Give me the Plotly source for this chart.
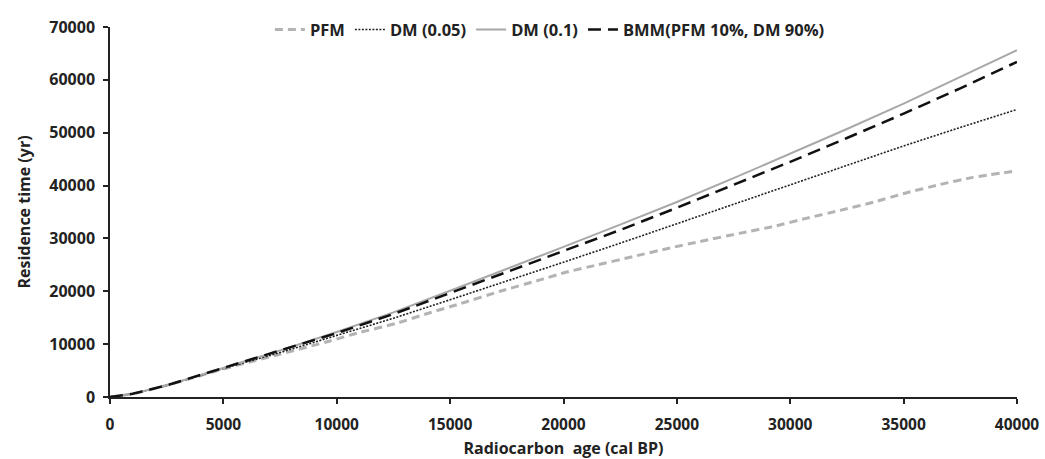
import plotly.graph_objects as go

x_dm = [0, 1000, 2500, 5000, 7500, 10000, 12500, 15000, 17500, 20000, 22500, 25000,
        27500, 30000, 32500, 35000, 37500, 40000]
dm01 = [0, 600, 2200, 5500, 8800, 12300, 16000, 20100, 24200, 28400, 32600, 36900,
        41400, 46000, 50700, 55500, 60500, 65600]
bmm = [0, 600, 2200, 5500, 8700, 12100, 15700, 19700, 23600, 27600, 31600, 35800,
       40100, 44500, 49000, 53600, 58400, 63400]
dm005 = [0, 600, 2200, 5400, 8400, 11600, 14900, 18400, 21900, 25500, 29100, 32800,
         36500, 40200, 43900, 47500, 51000, 54400]

x_pfm = [0, 1000, 2500, 5000, 7500, 9700, 11000, 12600, 14000, 15400, 17200, 19000,
         20100, 21500, 23100, 24700, 26000, 27800, 29300, 30700, 32200, 33700, 35100,
         36600, 38000, 40000]
pfm = [0, 600, 2200, 5300, 8100, 10600, 12200, 13900, 15800, 17600, 20000, 22200,
       23600, 25000, 26600, 28200, 29400, 31000, 32300, 33800, 35300, 36900, 38600,
       40200, 41500, 42800]

x_ticks = [0, 5000, 10000, 15000, 20000, 25000, 30000, 35000, 40000]
y_ticks = [0, 10000, 20000, 30000, 40000, 50000, 60000, 70000]

FONT = "Open Sans"

fig = go.Figure()
fig.add_trace(go.Scatter(x=x_pfm, y=pfm, mode="lines", name="<b>PFM</b>", line_shape="spline",
                         line=dict(color="#b3b3b3", width=3, dash="8px,5px", smoothing=0.5)))
fig.add_trace(go.Scatter(x=x_dm, y=dm005, mode="lines", name="<b>DM (0.05)</b>",
                         line=dict(color="#222222", width=1.6, dash="2px,1.5px")))
fig.add_trace(go.Scatter(x=x_dm, y=dm01, mode="lines", name="<b>DM (0.1)</b>",
                         line=dict(color="#a8a8a8", width=2)))
fig.add_trace(go.Scatter(x=x_dm, y=bmm, mode="lines", name="<b>BMM(PFM 10%, DM 90%)</b>",
                         line=dict(color="#111111", width=2.5, dash="13px,7px")))

fig.update_layout(
    width=1045, height=459,
    margin=dict(l=110, r=28, t=17, b=62),
    paper_bgcolor="white", plot_bgcolor="white",
    font=dict(family=FONT, size=16, color="#222222"),
    showlegend=True,
    legend=dict(orientation="h", x=0.485, xanchor="center", y=1.04, yanchor="top",
                font=dict(family=FONT, size=16.5, color="#222222"),
                bgcolor="rgba(255,255,255,0)", itemwidth=30, tracegroupgap=0),
    xaxis=dict(range=[0, 40000], tickvals=x_ticks, ticktext=[f"<b>{v}</b>" for v in x_ticks],
               showgrid=False, zeroline=False, showline=True, linecolor="#222222", linewidth=1.5,
               ticks="outside", ticklen=5, tickwidth=1.5, tickcolor="#222222",
               tickfont=dict(family=FONT, size=15.5), ticklabelstandoff=8, automargin=False,
               title=dict(text="<b>Radiocarbon  age (cal BP)</b>", font=dict(family=FONT, size=16))),
    yaxis=dict(range=[0, 70000], tickvals=y_ticks, ticktext=[f"<b>{v}</b>" for v in y_ticks],
               showgrid=False, zeroline=False, showline=True, linecolor="#222222", linewidth=1.5,
               ticks="outside", ticklen=5, tickwidth=1.5, tickcolor="#222222",
               tickfont=dict(family=FONT, size=16), ticklabelstandoff=5, automargin=False,
               title=dict(text="<b>Residence time (yr)</b>", font=dict(family=FONT, size=16))),
)

fig.write_html("out.html")
